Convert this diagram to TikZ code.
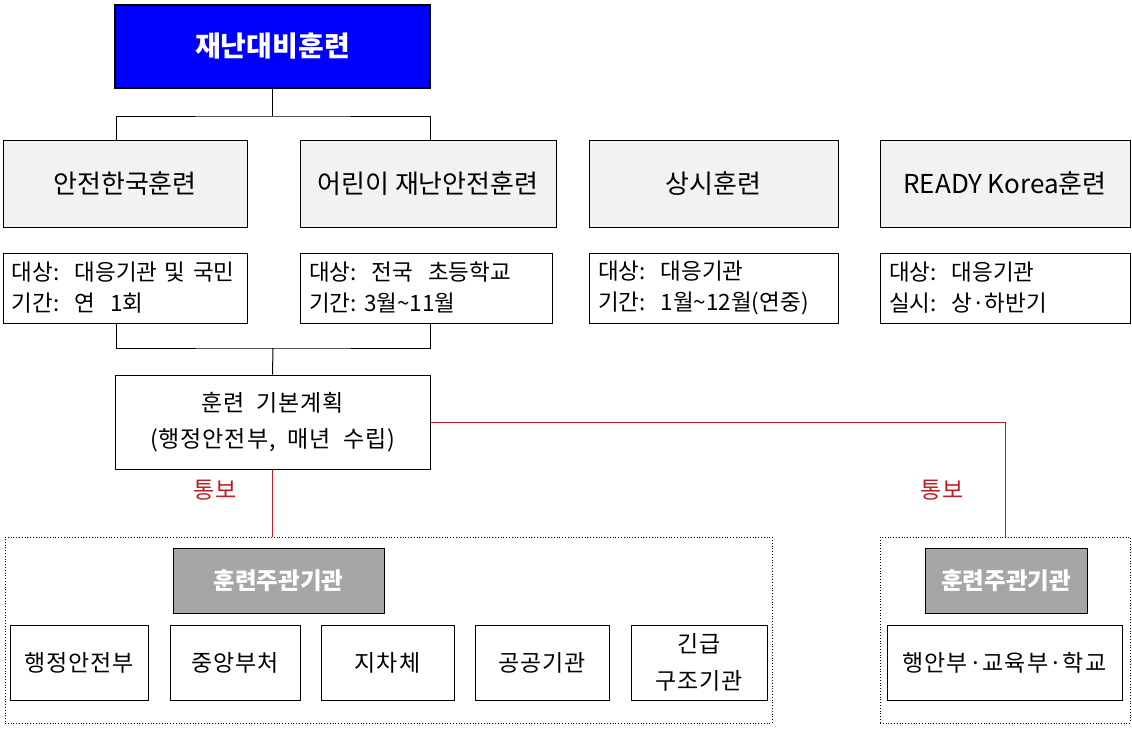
\documentclass[tikz,border=0pt]{standalone}
\usepackage{fontspec}
\setmainfont{Noto Sans CJK KR}
\newfontfamily\krsp[LetterSpace=4]{Noto Sans CJK KR}
\definecolor{topblue}{RGB}{0,0,255}
\definecolor{lightgray}{RGB}{242,242,242}
\definecolor{midgray}{RGB}{166,166,166}
\definecolor{linkred}{RGB}{185,30,40}
\begin{document}
\begin{tikzpicture}[x=1pt,y=1pt,
  box/.style={draw=black, line width=1pt, inner sep=0pt, anchor=center},
  topbox/.style={box, line width=2pt, fill=topblue, text=white, font=\bfseries\fontsize{28}{32}\selectfont},
  kindbox/.style={box, fill=lightgray, font=\fontsize{26}{30}\selectfont},
  infobox/.style={box, fill=white, align=left, inner xsep=9pt, minimum height=70pt, font=\fontsize{22.5}{31}\selectfont},
  planbox/.style={box, fill=white, align=center, font=\krsp\fontsize{23}{36}\selectfont},
  groupbox/.style={draw=black, line width=0.8pt, dotted, inner sep=0pt, anchor=center},
  headbox/.style={box, fill=midgray, text=white, font=\bfseries\fontsize{23.5}{26}\selectfont},
  orgbox/.style={box, fill=white, align=center, font=\krsp\fontsize{23}{37}\selectfont},
  blk/.style={draw=black, line width=1pt},
  redlink/.style={draw=linkred, line width=1pt},
  redlabel/.style={text=linkred, font=\fontsize{23}{26}\selectfont}
]
\useasboundingbox (0,0) rectangle (1132,-728);

% top
\node[topbox, minimum width=315pt, minimum height=83pt] (top) at (272.5,-46.5) {재난대비훈련};

% row 1
\node[kindbox, minimum width=244pt, minimum height=87pt] (r1a) at (125,-183.5) {안전한국훈련};
\node[kindbox, minimum width=256pt, minimum height=87pt] (r1b) at (428,-183.5) {어린이\ 재난안전훈련};
\node[kindbox, minimum width=249pt, minimum height=87pt] (r1c) at (713.5,-183.5) {상시훈련};
\node[kindbox, minimum width=250pt, minimum height=87pt] (r1d) at (1005,-183.5) {READY Korea훈련};

% row 2
\node[infobox, text width=226pt] (r2a) at (125,-288) {대상:\ \ 대응기관 및 국민\\기간:\ \ 연\ \ 1회};
\node[infobox, text width=234pt] (r2b) at (426,-288) {대상:\ \ 전국\ \ 초등학교\\기간:\ 3월\textasciitilde 11월};
\node[infobox, text width=231pt] (r2c) at (713.5,-288) {대상:\ \ 대응기관\\기간:\ \ 1월\textasciitilde 12월(연중)};
\node[infobox, text width=232pt] (r2d) at (1005,-288) {대상:\ \ 대응기관\\실시:\ \ 상·하반기};

% plan
\node[planbox, minimum width=315pt, minimum height=94pt] (plan) at (272.5,-422) {훈련\ \ 기본계획\\(행정안전부,\ \ 매년\ \ 수립)};

% groups
\node[groupbox, minimum width=767pt, minimum height=186pt] (gl) at (388.5,-630) {};
\node[groupbox, minimum width=250pt, minimum height=186pt] (gr) at (1005,-630) {};

\node[headbox, minimum width=211pt, minimum height=65pt] (hl) at (278.5,-580.5) {훈련주관기관};
\node[headbox, minimum width=162pt, minimum height=65pt] (hr) at (1006,-580.5) {훈련주관기관};

\node[orgbox, minimum width=138pt, minimum height=75pt] (b1) at (79,-662.5) {행정안전부};
\node[orgbox, minimum width=130pt, minimum height=75pt] (b2) at (235,-662.5) {중앙부처};
\node[orgbox, minimum width=133pt, minimum height=75pt] (b3) at (387.5,-662.5) {지차체};
\node[orgbox, minimum width=134pt, minimum height=75pt] (b4) at (542,-662.5) {공공기관};
\node[orgbox, minimum width=136pt, minimum height=75pt] (b5) at (699,-662.5) {긴급\\구조기관};
\node[orgbox, minimum width=235pt, minimum height=75pt] (bR) at (1004.5,-662.5) {행안부·교육부·학교};

% labels
\node[redlabel] (t1) at (215,-490) {통보};
\node[redlabel] (t2) at (942,-490) {통보};

% connectors
\draw[blk] (top.south) -- ++(0,-27) coordinate (j1);
\draw[blk] ([xshift=-9pt]r1a.north) |- (j1) -| ([xshift=2pt]r1b.north);
\draw[blk] ([xshift=-9pt]r2a.south) |- (273,-348) coordinate (j2) -| ([xshift=4pt]r2b.south);
\draw[blk] (j2) -- (plan.north);
\draw[redlink] (plan.south) -- (plan.south |- gl.north);
\draw[redlink] (plan.east) -| (gr.north);
\end{tikzpicture}
\end{document}
